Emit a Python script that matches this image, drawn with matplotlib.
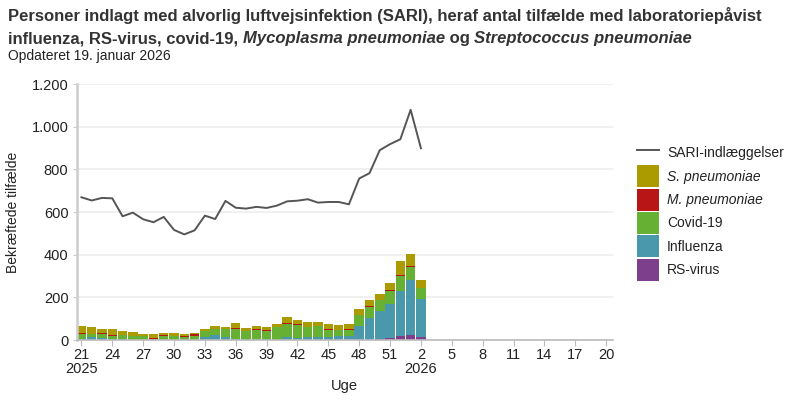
import numpy as np
import matplotlib
matplotlib.use("Agg")
import matplotlib.pyplot as plt
from matplotlib.patches import Patch
from matplotlib.lines import Line2D

plt.rcParams['font.family'] = ['Liberation Sans', 'DejaVu Sans']

# ---------------- DATA ----------------
# weeks 21-52 of 2025 and 1-20 of 2026 (x axis), data only until week 2 2026
axis_weeks = list(range(21, 53)) + list(range(1, 21))
data_weeks = list(range(21, 53)) + [1, 2]

sari = [669, 654, 666, 664, 580, 597, 566, 552, 577, 516, 495, 514, 583, 567,
        652, 620, 616, 624, 619, 630, 650, 653, 660, 644, 647, 647, 636, 757,
        782, 890, 918, 941, 1079, 899]
rs_virus = [0, 0, 0, 0, 0, 0, 0, 0, 0, 0, 0, 0, 0, 0, 0, 0, 0, 0, 0, 0, 0, 0,
            0, 0, 0, 0, 0, 0, 1, 3, 9, 19, 23, 14]
influenza = [6, 14, 10, 5, 3, 2, 1, 1, 1, 1, 2, 1, 14, 23, 14, 3, 1, 2, 3, 1,
             14, 9, 12, 12, 12, 17, 17, 66, 103, 133, 159, 211, 257, 178]
covid = [22, 16, 19, 14, 19, 18, 19, 4, 18, 20, 11, 20, 28, 28, 37, 47, 43, 44,
         39, 60, 61, 61, 48, 53, 34, 30, 30, 50, 51, 52, 61, 72, 62, 51]
m_pneu = [4, 0, 4, 4, 0, 0, 0, 5, 4, 0, 5, 5, 0, 0, 0, 5, 0, 4, 4, 0, 4, 4, 0,
          0, 4, 0, 5, 0, 5, 0, 5, 5, 5, 0]
s_pneu = [34, 31, 19, 29, 20, 17, 8, 18, 10, 12, 12, 8, 9, 14, 9, 23, 12, 14,
          14, 14, 28, 19, 23, 19, 23, 23, 23, 30, 28, 28, 33, 64, 55, 37]

series = [
    ("RS-virus", rs_virus, "#7d3f8c"),
    ("Influenza", influenza, "#4a98ab"),
    ("Covid-19", covid, "#66b133"),
    ("M. pneumoniae", m_pneu, "#b71516"),
    ("S. pneumoniae", s_pneu, "#ab9a00"),
]

# ---------------- PLOT ----------------
fig = plt.figure(figsize=(8, 4), dpi=100)
ax = fig.add_axes([0.096, 0.15, 0.67, 0.64])

x = np.arange(len(data_weeks))
bottom = np.zeros(len(x))
for name, vals, col in series:
    ax.bar(x, vals, bottom=bottom, width=0.92, color=col, linewidth=0, zorder=2)
    bottom += np.array(vals)

ax.plot(x, sari, color="#555555", linewidth=1.4, zorder=3)

ax.set_xlim(-0.45, len(axis_weeks) - 0.35)
ax.set_ylim(0, 1200)

yt = np.arange(0, 1201, 200)
ax.set_yticks(yt)
ax.set_yticklabels([f"{v:,}".replace(",", ".") for v in yt])
ax.grid(axis="y", color="#eeeeee", linewidth=1.2, zorder=0)
ax.set_axisbelow(True)

tick_pos = list(range(0, len(axis_weeks), 3))
tick_lab = []
for i in tick_pos:
    w = axis_weeks[i]
    if i == 0:
        tick_lab.append(f"{w}\n2025")
    elif w == 2:
        tick_lab.append(f"{w}\n2026")
    else:
        tick_lab.append(str(w))
ax.set_xticks(tick_pos)
ax.set_xticklabels(tick_lab, fontsize=10.5, color="#222222", linespacing=1.0)

for s in ["top", "right"]:
    ax.spines[s].set_visible(False)
ax.spines["left"].set_color("#cccccc")
ax.spines["left"].set_linewidth(1.8)
ax.spines["bottom"].set_color("#bbbbbb")
ax.spines["bottom"].set_linewidth(1.2)
ax.tick_params(axis="x", length=4, color="#bbbbbb", pad=2)
ax.tick_params(axis="y", length=3, color="#cccccc", labelsize=10.5,
               labelcolor="#222222", pad=3)

ax.set_ylabel("Bekræftede tilfælde", fontsize=10, color="#222222", labelpad=8)
ax.set_xlabel("Uge", fontsize=10.5, color="#222222", labelpad=2)

# legend
handles = [Line2D([0], [0], color="#555555", linewidth=1.4)]
labels = ["SARI-indlæggelser"]
for name, vals, col in reversed(series):
    handles.append(Patch(facecolor=col, edgecolor="none"))
    labels.append(name)
leg = fig.legend(handles, labels, loc="upper left", bbox_to_anchor=(0.7825, 0.673),
                 frameon=False, fontsize=10, handlelength=1.55, handleheight=2.06,
                 labelspacing=0.1, handletextpad=0.6, borderpad=0.3)
for t in leg.get_texts():
    t.set_color("#222222")
    if "pneumoniae" in t.get_text():
        t.set_style("italic")

# title with mixed italics
renderer = fig.canvas.get_renderer()


def rich_line(parts, x0, y0, **kw):
    xx = x0
    for txt, style in parts:
        t = fig.text(xx, y0, txt, style=style, transform=None, va="baseline", **kw)
        bb = t.get_window_extent(renderer)
        xx = bb.x1


H = 400
tkw = dict(fontsize=12, fontweight="bold", color="#333333")
rich_line([("Personer indlagt med alvorlig luftvejsinfektion (SARI), heraf antal tilfælde med laboratoriepåvist", "normal")],
          8, H - 21, **tkw)
rich_line([("influenza, RS-virus, covid-19, ", "normal"),
           ("Mycoplasma pneumoniae", "italic"),
           (" og ", "normal"),
           ("Streptococcus pneumoniae", "italic")],
          8, H - 43, **tkw)
fig.text(8, H - 60, "Opdateret 19. januar 2026", transform=None, fontsize=10,
         color="#222222", va="baseline")

fig.savefig("out.png", dpi=100)
